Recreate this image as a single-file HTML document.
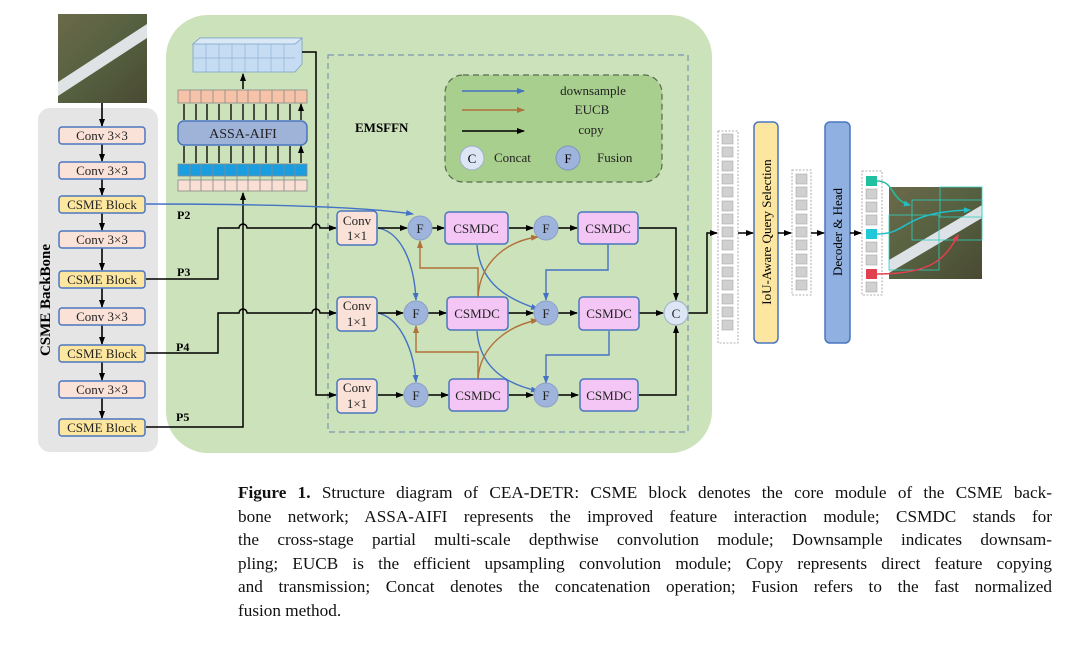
<!DOCTYPE html>
<html><head><meta charset="utf-8"><style>
body{margin:0;background:#fff;width:1080px;height:647px;overflow:hidden;position:relative}
svg{position:absolute;left:0;top:0}
text{font-family:"Liberation Serif",serif}
.cap{position:absolute;left:238px;width:814px;font-family:"Liberation Serif",serif;font-size:17.2px;color:#111;line-height:23.6px;top:481px}
.cap div{text-align:justify;text-align-last:justify;white-space:nowrap}
.cap div.l{text-align-last:left}
</style></head><body>
<svg width="1080" height="647" viewBox="0 0 1080 647">
<defs>
<marker id="ak" markerWidth="8" markerHeight="8" refX="7" refY="4" orient="auto" markerUnits="userSpaceOnUse"><path d="M0,1 L8,4 L0,7z" fill="#000"/></marker>
<marker id="ab" markerWidth="8" markerHeight="8" refX="7" refY="4" orient="auto" markerUnits="userSpaceOnUse"><path d="M0,1 L8,4 L0,7z" fill="#4472c4"/></marker>
<marker id="ao" markerWidth="8" markerHeight="8" refX="7" refY="4" orient="auto" markerUnits="userSpaceOnUse"><path d="M0,1 L8,4 L0,7z" fill="#b0713a"/></marker>
<marker id="ac" markerWidth="7" markerHeight="7" refX="6" refY="3.5" orient="auto" markerUnits="userSpaceOnUse"><path d="M0,0.5 L7,3.5 L0,6.5z" fill="#1fc0c8"/></marker>
<marker id="ar" markerWidth="7" markerHeight="7" refX="6" refY="3.5" orient="auto" markerUnits="userSpaceOnUse"><path d="M0,0.5 L7,3.5 L0,6.5z" fill="#e04050"/></marker>
<linearGradient id="img" x1="0" y1="0" x2="1" y2="1"><stop offset="0" stop-color="#6b6a4a"/><stop offset="0.5" stop-color="#556040"/><stop offset="1" stop-color="#4a4a32"/></linearGradient>
</defs>
<!-- green panel -->
<rect x="166" y="15" width="546" height="438" rx="42" fill="#cce2bb"/>
<!-- gray backbone -->
<rect x="38" y="108" width="120" height="344" rx="12" fill="#e5e5e5"/>
<!-- input image -->
<rect x="58" y="14" width="89" height="89" fill="url(#img)"/>
<path d="M58,82 L147,24 L147,38 L58,96z" fill="#dfe3e6"/>
<text x="50" y="300" font-size="15" font-weight="bold" transform="rotate(-90 50 300)" text-anchor="middle">CSME BackBone</text>
<g stroke="#000" stroke-width="1.6" marker-end="url(#ak)">
<line x1="102" y1="103" x2="102" y2="126"/><line x1="102" y1="143" x2="102" y2="161"/><line x1="102" y1="178" x2="102" y2="195"/><line x1="102" y1="212" x2="102" y2="230"/><line x1="102" y1="247" x2="102" y2="270"/><line x1="102" y1="287" x2="102" y2="307"/><line x1="102" y1="324" x2="102" y2="344"/><line x1="102" y1="361" x2="102" y2="380"/><line x1="102" y1="397" x2="102" y2="418"/>
</g>
<g stroke="#4a76c0" stroke-width="1.5" font-size="13" text-anchor="middle">
<rect x="59" y="127" width="86" height="17" rx="3" fill="#fbe2d8"/><rect x="59" y="162" width="86" height="17" rx="3" fill="#fbe2d8"/>
<rect x="59" y="196" width="86" height="17" rx="3" fill="#fde7a0"/><rect x="59" y="231" width="86" height="17" rx="3" fill="#fbe2d8"/>
<rect x="59" y="271" width="86" height="17" rx="3" fill="#fde7a0"/><rect x="59" y="308" width="86" height="17" rx="3" fill="#fbe2d8"/>
<rect x="59" y="345" width="86" height="17" rx="3" fill="#fde7a0"/><rect x="59" y="381" width="86" height="17" rx="3" fill="#fbe2d8"/>
<rect x="59" y="419" width="86" height="17" rx="3" fill="#fde7a0"/>
</g>
<g font-size="13" text-anchor="middle" fill="#222">
<text x="102" y="140">Conv 3×3</text><text x="102" y="175">Conv 3×3</text><text x="102" y="209">CSME Block</text><text x="102" y="244">Conv 3×3</text><text x="102" y="284">CSME Block</text><text x="102" y="321">Conv 3×3</text><text x="102" y="358">CSME Block</text><text x="102" y="394">Conv 3×3</text><text x="102" y="432">CSME Block</text>
</g>
<g font-size="12" font-weight="bold"><text x="177" y="219">P2</text><text x="177" y="276">P3</text><text x="176" y="351">P4</text><text x="176" y="421">P5</text></g>
<!-- feature cube -->
<path d="M193,44 L200,38 L302,38 L302,64 L295,72 L193,72z" fill="#c6dcf2" stroke="#7aa0c8" stroke-width="0.8"/>
<path d="M193,44 L200,38 L302,38 L295,44z" fill="#dbe9f7" stroke="#7aa0c8" stroke-width="0.8"/>
<g stroke="#8fb2d6" stroke-width="0.7">
<line x1="193" y1="58" x2="295" y2="58"/>
<line x1="206" y1="44" x2="206" y2="72"/><line x1="219" y1="44" x2="219" y2="72"/><line x1="232" y1="44" x2="232" y2="72"/><line x1="245" y1="44" x2="245" y2="72"/><line x1="258" y1="44" x2="258" y2="72"/><line x1="271" y1="44" x2="271" y2="72"/><line x1="284" y1="44" x2="284" y2="72"/>
</g>
<line x1="243" y1="89" x2="243" y2="74" stroke="#000" stroke-width="1.5" marker-end="url(#ak)"/>
<!-- token rows -->
<g stroke="#888" stroke-width="0.8">
<rect x="178" y="90" width="129" height="13" fill="#f6c2a8"/>
<rect x="178" y="164" width="129" height="12" fill="#1a9ee0"/>
<rect x="178" y="180" width="129" height="11" fill="#fae0d4"/>
<path d="M190 90v13M201 90v13M213 90v13M225 90v13M237 90v13M248 90v13M260 90v13M272 90v13M284 90v13M295 90v13M190 164v27M201 164v27M213 164v27M225 164v27M237 164v27M248 164v27M260 164v27M272 164v27M284 164v27M295 164v27"/>
</g>
<rect x="178" y="121" width="129" height="24" rx="6" fill="#9fb2d8" stroke="#4a76c0" stroke-width="1.5"/>
<text x="243" y="138" font-size="14" text-anchor="middle" fill="#222">ASSA-AIFI</text>
<g stroke="#000" stroke-width="1.3" marker-end="url(#ak)">
<path d="M184 120v-16M196 120v-16M207 120v-16M219 120v-16M231 120v-16M243 120v-16M254 120v-16M266 120v-16M278 120v-16M290 120v-16M301 120v-16"/>
<path d="M184 163v-17M196 163v-17M207 163v-17M219 163v-17M231 163v-17M243 163v-17M254 163v-17M266 163v-17M278 163v-17M290 163v-17M301 163v-17"/>
</g>
<!-- EMSFFN dashed -->
<rect x="328" y="55" width="360" height="377" fill="none" stroke="#7d95b0" stroke-width="1.2" stroke-dasharray="6,4"/>
<text x="355" y="132" font-size="13" font-weight="bold">EMSFFN</text>
<rect x="445" y="75" width="217" height="107" rx="18" fill="#a8cf8e" stroke="#5a6a50" stroke-width="1.2" stroke-dasharray="6,4"/>
<line x1="462" y1="91" x2="524" y2="91" stroke="#4472c4" stroke-width="1.4" marker-end="url(#ab)"/>
<line x1="462" y1="110" x2="524" y2="110" stroke="#b0713a" stroke-width="1.4" marker-end="url(#ao)"/>
<line x1="462" y1="131" x2="524" y2="131" stroke="#000" stroke-width="1.4" marker-end="url(#ak)"/>
<g font-size="13" fill="#222"><text x="593" y="95" text-anchor="middle">downsample</text><text x="592" y="114" text-anchor="middle">EUCB</text><text x="591" y="134" text-anchor="middle">copy</text><text x="494" y="162">Concat</text><text x="597" y="162">Fusion</text></g>
<circle cx="472" cy="158" r="12" fill="#dde6f4" stroke="#9fb0c8"/><text x="472" y="163" font-size="13" text-anchor="middle">C</text>
<circle cx="568" cy="158" r="12" fill="#9fb4dc" stroke="#7d95c0"/><text x="568" y="163" font-size="13" text-anchor="middle">F</text>
<!-- backbone connections -->
<g fill="none" stroke="#000" stroke-width="1.5">
<path d="M146,279 H218 V228 H239 a4,4 0 0 1 8,0 H312 a4,4 0 0 1 8,0 H336" marker-end="url(#ak)"/>
<path d="M146,353 H218 V313 H239 a4,4 0 0 1 8,0 H312 a4,4 0 0 1 8,0 H336" marker-end="url(#ak)"/>
<path d="M146,427 H243 V193" marker-end="url(#ak)"/>
<path d="M302,52 H316 V395 H336" marker-end="url(#ak)"/>
</g>
<path d="M146,204 C250,204 360,206 413,214" fill="none" stroke="#4472c4" stroke-width="1.4" marker-end="url(#ab)"/>
<!-- blue connectors -->
<g fill="none" stroke="#4472c4" stroke-width="1.4" marker-end="url(#ab)">
<path d="M378,228 C400,232 414,260 416,300"/>
<path d="M378,313 C400,318 414,350 416,382"/>
<path d="M477,245 C480,285 510,300 538,309"/>
<path d="M477,331 C480,370 510,385 538,391"/>
<path d="M608,244 V270 H546 V300"/>
<path d="M609,331 V355 H546 V383"/>
</g>
<g fill="none" stroke="#b0713a" stroke-width="1.4" marker-end="url(#ao)">
<path d="M478,297 V268 H420 V241"/>
<path d="M478,297 C480,260 510,240 538,237"/>
<path d="M478,379 V352 H416 V326"/>
<path d="M478,379 C480,345 510,325 538,320"/>
</g>
<!-- black row arrows -->
<g fill="none" stroke="#000" stroke-width="1.5" marker-end="url(#ak)">
<line x1="378" y1="228" x2="407" y2="228"/><line x1="432" y1="228" x2="444" y2="228"/><line x1="509" y1="228" x2="533" y2="228"/><line x1="558" y1="228" x2="577" y2="228"/>
<line x1="378" y1="313" x2="403" y2="313"/><line x1="428" y1="313" x2="446" y2="313"/><line x1="508" y1="313" x2="533" y2="313"/><line x1="558" y1="313" x2="577" y2="313"/><line x1="639" y1="313" x2="663" y2="313"/>
<line x1="378" y1="395" x2="403" y2="395"/><line x1="428" y1="395" x2="448" y2="395"/><line x1="509" y1="395" x2="533" y2="395"/><line x1="558" y1="395" x2="578" y2="395"/>
<path d="M639,228 H676 V300"/><path d="M639,395 H676 V326"/>
<path d="M688,313 H707 V233 H717"/>
</g>
<!-- nodes -->
<g stroke="#4a76c0" stroke-width="1.5">
<rect x="337" y="211" width="40" height="34" rx="4" fill="#fbe2d8"/><rect x="337" y="297" width="40" height="34" rx="4" fill="#fbe2d8"/><rect x="337" y="379" width="40" height="34" rx="4" fill="#fbe2d8"/>
<rect x="445" y="212" width="63" height="32" rx="4" fill="#f3c6f5"/><rect x="447" y="297" width="61" height="33" rx="4" fill="#f3c6f5"/><rect x="449" y="379" width="59" height="32" rx="4" fill="#f3c6f5"/>
<rect x="578" y="212" width="60" height="32" rx="4" fill="#f3c6f5"/><rect x="579" y="297" width="60" height="33" rx="4" fill="#f3c6f5"/><rect x="580" y="379" width="58" height="32" rx="4" fill="#f3c6f5"/>
</g>
<g fill="#9fb4dc" stroke="#8aa0c8" stroke-width="1">
<circle cx="420" cy="228" r="12"/><circle cx="416" cy="313" r="12"/><circle cx="416" cy="395" r="12"/>
<circle cx="546" cy="228" r="12"/><circle cx="546" cy="313" r="12"/><circle cx="546" cy="395" r="12"/>
</g>
<circle cx="676" cy="313" r="12" fill="#dde6f4" stroke="#9fb0c8"/>
<g font-size="13" text-anchor="middle" fill="#222">
<text x="357" y="225">Conv</text><text x="357" y="240">1×1</text><text x="357" y="310">Conv</text><text x="357" y="326">1×1</text><text x="357" y="392">Conv</text><text x="357" y="408">1×1</text>
<text x="476" y="233">CSMDC</text><text x="477" y="318">CSMDC</text><text x="478" y="400">CSMDC</text>
<text x="608" y="233">CSMDC</text><text x="609" y="318">CSMDC</text><text x="609" y="400">CSMDC</text>
<text x="420" y="233">F</text><text x="416" y="318">F</text><text x="416" y="400">F</text><text x="546" y="233">F</text><text x="546" y="318">F</text><text x="546" y="400">F</text><text x="676" y="318">C</text>
</g>
<!-- token columns -->
<rect x="718" y="131" width="20" height="212" fill="#fff" stroke="#999" stroke-width="0.8" stroke-dasharray="2,1.5"/>
<g fill="#d0d0d0" stroke="#aaa" stroke-width="0.6">
<rect x="722" y="134" width="11" height="10"/><rect x="722" y="147" width="11" height="10"/><rect x="722" y="161" width="11" height="10"/><rect x="722" y="174" width="11" height="10"/><rect x="722" y="187" width="11" height="10"/><rect x="722" y="201" width="11" height="10"/><rect x="722" y="214" width="11" height="10"/><rect x="722" y="227" width="11" height="10"/><rect x="722" y="240" width="11" height="10"/><rect x="722" y="254" width="11" height="10"/><rect x="722" y="267" width="11" height="10"/><rect x="722" y="280" width="11" height="10"/><rect x="722" y="294" width="11" height="10"/><rect x="722" y="307" width="11" height="10"/><rect x="722" y="320" width="11" height="10"/>
</g>
<rect x="792" y="170" width="19" height="125" fill="#fff" stroke="#999" stroke-width="0.8" stroke-dasharray="2,1.5"/>
<g fill="#d0d0d0" stroke="#aaa" stroke-width="0.6">
<rect x="796" y="174" width="11" height="10"/><rect x="796" y="187" width="11" height="10"/><rect x="796" y="200" width="11" height="10"/><rect x="796" y="214" width="11" height="10"/><rect x="796" y="227" width="11" height="10"/><rect x="796" y="240" width="11" height="10"/><rect x="796" y="254" width="11" height="10"/><rect x="796" y="267" width="11" height="10"/><rect x="796" y="280" width="11" height="10"/>
</g>
<rect x="862" y="171" width="20" height="124" fill="#fff" stroke="#999" stroke-width="0.8" stroke-dasharray="2,1.5"/>
<g fill="#d0d0d0" stroke="#aaa" stroke-width="0.6">
<rect x="866" y="189" width="11" height="10"/><rect x="866" y="202" width="11" height="10"/><rect x="866" y="215" width="11" height="10"/><rect x="866" y="242" width="11" height="10"/><rect x="866" y="255" width="11" height="10"/><rect x="866" y="282" width="11" height="10"/>
</g>
<rect x="866" y="176" width="11" height="10" fill="#20c0a0"/><rect x="866" y="229" width="11" height="10" fill="#20c8d8"/><rect x="866" y="269" width="11" height="10" fill="#e04050"/>
<rect x="754" y="122" width="24" height="221" rx="5" fill="#fde7a0" stroke="#4a76c0" stroke-width="1.5"/>
<text x="771" y="232" font-size="13" text-anchor="middle" transform="rotate(-90 771 232)">IoU-Aware Query Selection</text>
<rect x="825" y="122" width="25" height="221" rx="5" fill="#8fb0e0" stroke="#4a76c0" stroke-width="1.5"/>
<text x="842" y="232" font-size="13" text-anchor="middle" transform="rotate(-90 842 232)">Decoder &amp; Head</text>
<g stroke="#000" stroke-width="1.5" marker-end="url(#ak)">
<line x1="738" y1="233" x2="753" y2="233"/><line x1="778" y1="233" x2="791" y2="233"/><line x1="811" y1="233" x2="824" y2="233"/><line x1="850" y1="233" x2="861" y2="233"/>
</g>
<!-- output image -->
<rect x="889" y="187" width="93" height="92" fill="url(#img)"/>
<path d="M889,260 L982,205 L982,218 L889,273z" fill="#dde2e6"/>
<g fill="none" stroke="#30d0c0" stroke-width="0.8"><rect x="912" y="200" width="70" height="40"/><rect x="889" y="215" width="50" height="55"/><rect x="940" y="187" width="42" height="30"/></g>
<path d="M877,181 C895,181 890,200 910,205" fill="none" stroke="#20c0a0" stroke-width="1.5" marker-end="url(#ac)"/>
<path d="M877,234 C910,234 900,212 970,210" fill="none" stroke="#1fc0c8" stroke-width="1.5" marker-end="url(#ac)"/>
<path d="M877,274 C930,274 945,260 958,235" fill="none" stroke="#e04050" stroke-width="1.5" marker-end="url(#ar)"/>
</svg>
<div class="cap">
<div><b>Figure 1.</b> Structure diagram of CEA-DETR: CSME block denotes the core module of the CSME back-</div>
<div>bone network; ASSA-AIFI represents the improved feature interaction module; CSMDC stands for</div>
<div>the cross-stage partial multi-scale depthwise convolution module; Downsample indicates downsam-</div>
<div>pling; EUCB is the efficient upsampling convolution module; Copy represents direct feature copying</div>
<div>and transmission; Concat denotes the concatenation operation; Fusion refers to the fast normalized</div>
<div class="l">fusion method.</div>
</div>
</body></html>
